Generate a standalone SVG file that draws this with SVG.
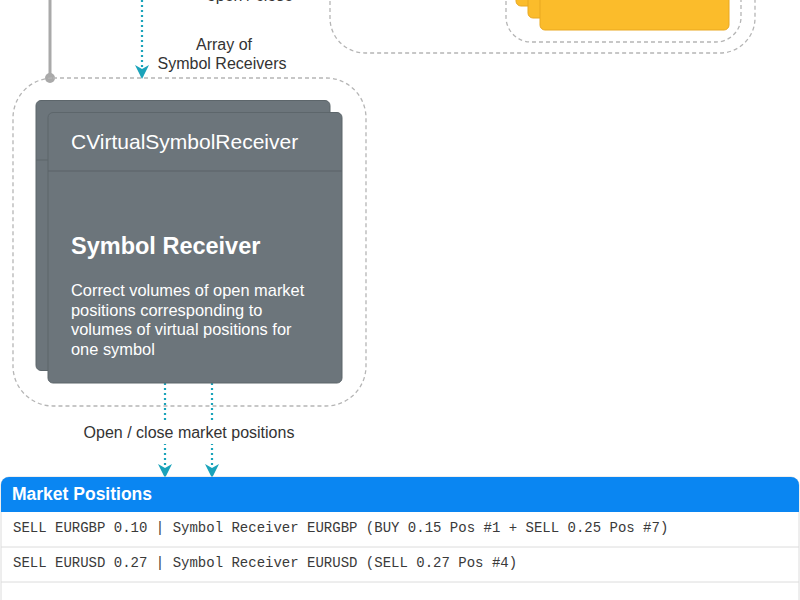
<svg xmlns="http://www.w3.org/2000/svg" width="800" height="600" viewBox="0 0 800 600">
  <style>
    .lbl { font-family: "Liberation Sans", Arial, sans-serif; font-size: 16px; fill: #333; }
    .dash { fill: none; stroke: #b5b5b5; stroke-width: 1.3; stroke-dasharray: 4 3; }
    .yellow { fill: #fbbc2b; stroke: #e9a820; stroke-width: 1; }
    .gray { fill: #6c757b; stroke: #5d666b; stroke-width: 1; }
    .wt { font-family: "Liberation Sans", Arial, sans-serif; fill: #ffffff; }
    .flow { fill: none; stroke: #1ba3ba; stroke-width: 2.2; stroke-dasharray: 2 3; }
    .mono { font-family: "Liberation Mono", "Courier New", monospace; font-size: 14px; fill: #3a3a3a; }
    .row { stroke: #dcdcdc; stroke-width: 1; }
  </style>
  <defs>
    <marker id="arr" markerUnits="userSpaceOnUse" markerWidth="14" markerHeight="14" viewBox="0 0 14 14" refX="13" refY="7" orient="auto">
      <path d="M0,0 L14,7 L0,14 L4,7 Z" fill="#1ba3ba"/>
    </marker>
  </defs>
  <rect width="800" height="600" fill="#ffffff"/>

  <!-- top-right group (cut off) -->
  <g id="top-group">
    <path class="dash" d="M330,-20 V18 A35,35 0 0 0 365,53 H720 A35,35 0 0 0 755,18 V-20"/>
    <path class="dash" d="M506,-20 V17 A25,25 0 0 0 531,42 H716 A25,25 0 0 0 741,17 V-20"/>
    <rect class="yellow" x="516" y="-40" width="189" height="46" rx="5"/>
    <rect class="yellow" x="528" y="-30" width="189" height="48" rx="5"/>
    <rect class="yellow" x="540" y="-20" width="189" height="50" rx="5"/>
  </g>

  <!-- connectors -->
  <g id="connectors">
    <line x1="50" y1="0" x2="50" y2="78" stroke="#a9a9a9" stroke-width="3"/>
    <circle cx="50" cy="78" r="5" fill="#a9a9a9"/>
    <line class="flow" x1="142" y1="0" x2="142" y2="78" marker-end="url(#arr)"/>
    <text class="lbl" x="250" y="1" text-anchor="middle">open / close</text>
    <text class="lbl" x="224" y="50" text-anchor="middle">Array of</text>
    <text class="lbl" x="222" y="69" text-anchor="middle">Symbol Receivers</text>
    <line class="flow" x1="165" y1="383" x2="165" y2="477" marker-end="url(#arr)"/>
    <line class="flow" x1="212" y1="383" x2="212" y2="477" marker-end="url(#arr)"/>
    <rect x="75" y="420" width="230" height="24" fill="#ffffff"/>
    <text class="lbl" x="189" y="438" text-anchor="middle" font-size="16.3">Open / close market positions</text>
  </g>

  <!-- symbol receiver node -->
  <g id="symbol-receiver">
    <rect class="dash" x="13" y="78" width="353" height="328" rx="40"/>
    <rect class="gray" x="36" y="100.5" width="294" height="270" rx="5"/>
    <line x1="36" y1="160" x2="330" y2="160" stroke="#5d666b" stroke-width="1"/>
    <rect class="gray" x="48" y="112.5" width="294" height="270.5" rx="5"/>
    <line x1="48" y1="171" x2="342" y2="171" stroke="#5a6368" stroke-width="1"/>
    <text class="wt" x="71" y="149" font-size="21">CVirtualSymbolReceiver</text>
    <text class="wt" x="71" y="254" font-size="23.5" font-weight="bold">Symbol Receiver</text>
    <text class="wt" x="71" y="296" font-size="16.4">Correct volumes of open market</text>
    <text class="wt" x="71" y="315.5" font-size="16.4">positions corresponding to</text>
    <text class="wt" x="71" y="335" font-size="16.4">volumes of virtual positions for</text>
    <text class="wt" x="71" y="354.5" font-size="16.4">one symbol</text>
  </g>

  <!-- market positions table -->
  <g id="market-positions">
    <path d="M1,620 V485 A8,8 0 0 1 9,477 H791 A8,8 0 0 1 799,485 V620" fill="#ffffff" stroke="#dcdcdc" stroke-width="1"/>
    <path d="M1,512 V485 A8,8 0 0 1 9,477 H791 A8,8 0 0 1 799,485 V512 Z" fill="#0a86f2"/>
    <text class="wt" x="12" y="500" font-size="17.5" font-weight="bold">Market Positions</text>
    <line class="row" x1="1" y1="547" x2="799" y2="547"/>
    <line class="row" x1="1" y1="582" x2="799" y2="582"/>
    <text class="mono" x="13" y="532">SELL EURGBP 0.10 | Symbol Receiver EURGBP (BUY 0.15 Pos #1 + SELL 0.25 Pos #7)</text>
    <text class="mono" x="13" y="567">SELL EURUSD 0.27 | Symbol Receiver EURUSD (SELL 0.27 Pos #4)</text>
  </g>
</svg>
